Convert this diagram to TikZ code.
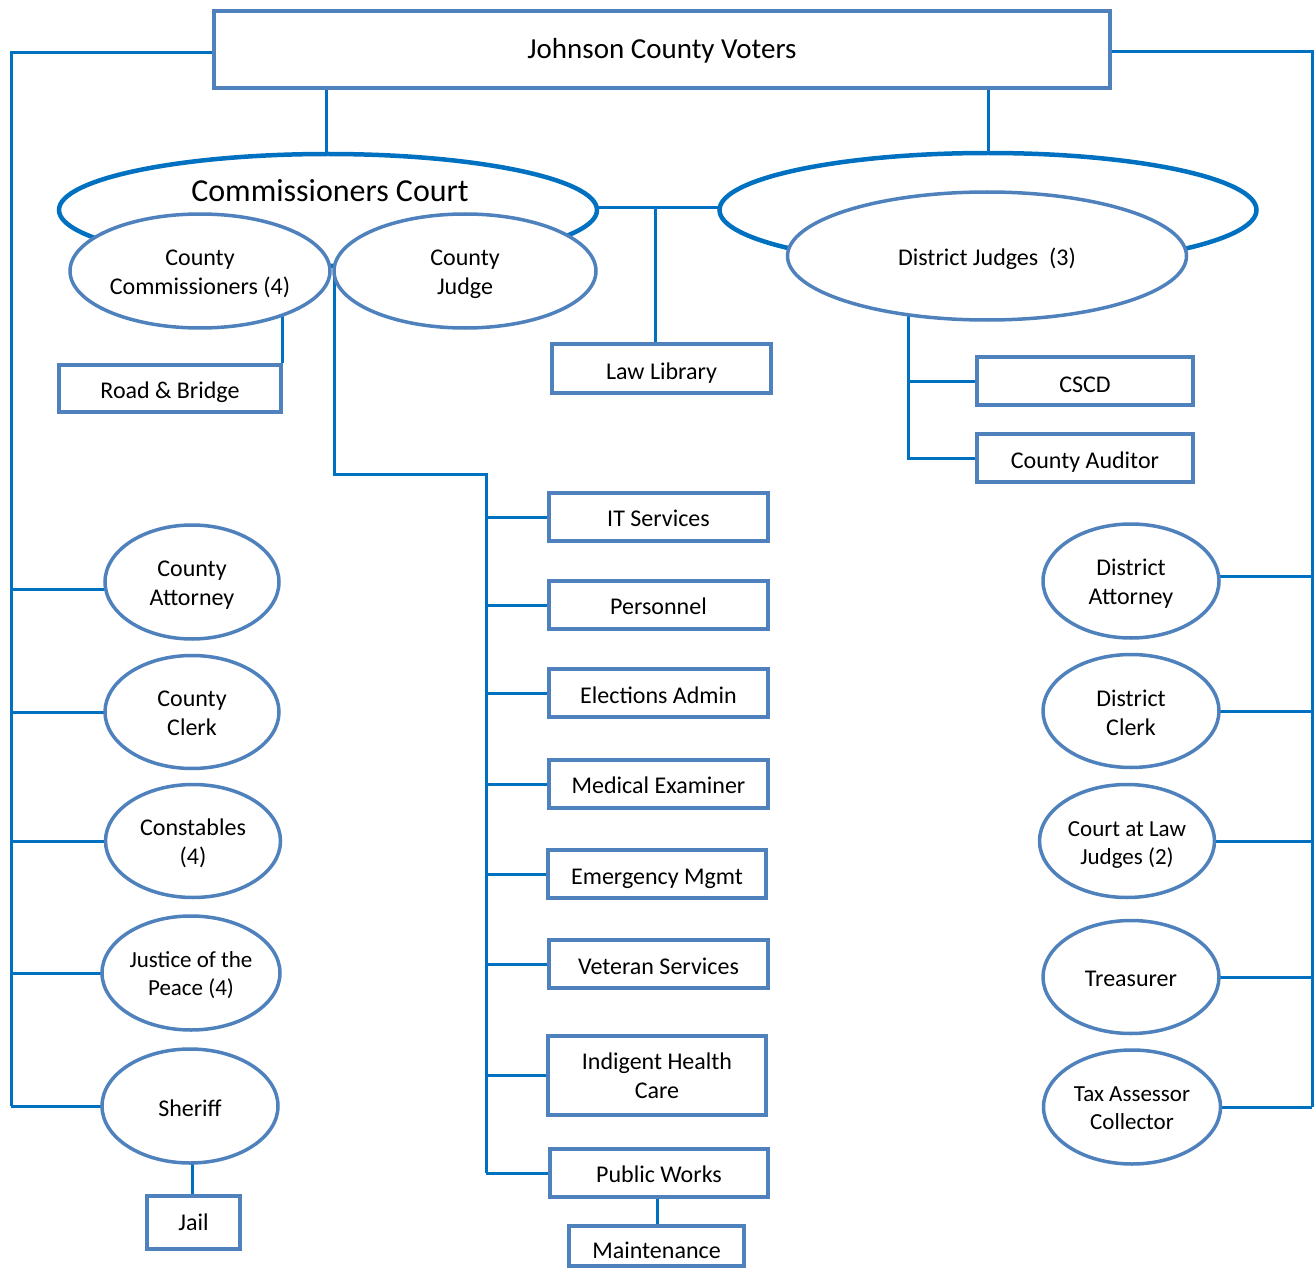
\documentclass[tikz,border=0pt]{standalone}
\usepackage{fontspec}
\setmainfont{Carlito}
\usetikzlibrary{shapes.geometric}
\definecolor{nodeblue}{HTML}{4F81BD}
\definecolor{lineblue}{HTML}{0070C0}
\pgfdeclarelayer{bg}
\pgfsetlayers{bg,main}
\newcommand\lbl[2][2.5pt]{\raisebox{-#1}[\height][\depth]{\begin{tabular}{@{}c@{}}#2\end{tabular}}}
\begin{document}
\begin{tikzpicture}[x=1pt,y=-1pt,
  rbox/.style={draw=nodeblue,line width=3.5pt,fill=white,inner sep=0pt,align=center,font=\fontsize{24}{29}\selectfont},
  oval/.style={ellipse,draw=nodeblue,line width=3.5pt,fill=white,inner sep=0pt,align=center,font=\fontsize{24}{29}\selectfont},
  smalloval/.style={oval,font=\fontsize{23}{28}\selectfont},
  bigoval/.style={ellipse,draw=lineblue,line width=4.5pt,fill=white,inner sep=0pt},
  conn/.style={draw=lineblue,line width=3pt}]
\useasboundingbox (0,0) rectangle (1315,1268);

% top
\node[rbox,minimum width=896pt,minimum height=77pt,font=\fontsize{29}{34}\selectfont] (voters) at (662,49.5) {\lbl[2pt]{Johnson County Voters}};

% big ovals
\node[bigoval,minimum width=538pt,minimum height=112pt] (cc) at (328,210) {};
\node[font=\fontsize{32}{38}\selectfont] (cctitle) at (330,191) {Commissioners Court};
\node[bigoval,minimum width=537pt,minimum height=114pt] (djbig) at (988,210) {};

\node[oval,minimum width=260pt,minimum height=114pt] (comm) at (200,271) {\lbl[3pt]{County\\Commissioners (4)}};
\node[oval,minimum width=262pt,minimum height=114pt] (cj) at (465,271) {\lbl[3pt]{County\\Judge}};
\node[oval,minimum width=399pt,minimum height=128pt] (dj) at (987,256) {\lbl[3.5pt]{District Judges~ (3)}};

% boxes
\node[rbox,minimum width=219pt,minimum height=49pt] (lawlib) at (661.5,368.5) {\lbl[5pt]{Law Library}};
\node[rbox,minimum width=222pt,minimum height=47pt] (rb) at (170,388.5) {\lbl[4pt]{Road \& Bridge}};
\node[rbox,minimum width=216pt,minimum height=48pt] (cscd) at (1085,381) {\lbl[6pt]{CSCD}};
\node[rbox,minimum width=216pt,minimum height=48pt] (aud) at (1085,458) {\lbl[5pt]{County Auditor}};

\node[rbox,minimum width=219pt,minimum height=48pt] (it) at (658.5,517) {\lbl[3.5pt]{IT Services}};
\node[rbox,minimum width=219pt,minimum height=48pt] (pers) at (658.5,605) {\lbl[3.5pt]{Personnel}};
\node[rbox,minimum width=219pt,minimum height=48pt] (elec) at (658.5,693) {\lbl[5pt]{Elections Admin}};
\node[rbox,minimum width=219pt,minimum height=48pt] (med) at (658.5,784) {\lbl[3.5pt]{Medical Examiner}};
\node[rbox,minimum width=218pt,minimum height=48pt] (emerg) at (657,874) {\lbl[5pt]{Emergency Mgmt}};
\node[rbox,minimum width=219pt,minimum height=48pt] (vet) at (658.5,964) {\lbl[4.5pt]{Veteran Services}};
\node[rbox,minimum width=218pt,minimum height=79pt] (ihc) at (657,1075.5) {\lbl[3pt]{Indigent Health\\Care}};
\node[rbox,minimum width=218pt,minimum height=48pt] (pw) at (659,1173) {\lbl[3.5pt]{Public Works}};
\node[rbox,minimum width=175pt,minimum height=40pt] (maint) at (656.5,1246) {\lbl[6.5pt]{Maintenance}};
\node[rbox,minimum width=93pt,minimum height=53pt] (jail) at (193.5,1222.5) {\lbl[2pt]{Jail}};

% left ovals
\node[oval,minimum width=174pt,minimum height=114pt] (catt) at (192,582) {\lbl[3pt]{County\\Attorney}};
\node[oval,minimum width=174pt,minimum height=113pt] (cclerk) at (192,712) {\lbl[3.5pt]{County\\Clerk}};
\node[oval,minimum width=175pt,minimum height=113pt] (const) at (193,841) {\lbl[3pt]{Constables\\(4)}};
\node[smalloval,minimum width=178pt,minimum height=114pt] (jp) at (191,973) {\lbl[2.5pt]{Justice of the\\Peace (4)}};
\node[oval,minimum width=176pt,minimum height=114pt] (sheriff) at (190,1106) {\lbl[4.5pt]{Sheriff}};

% right ovals
\node[oval,minimum width=176pt,minimum height=114pt] (datt) at (1131,581) {\lbl[3pt]{District\\Attorney}};
\node[oval,minimum width=176pt,minimum height=113pt] (dclerk) at (1131,711) {\lbl[4pt]{District\\Clerk}};
\node[smalloval,minimum width=175pt,minimum height=113pt] (cal) at (1127,841) {\lbl[4pt]{Court at Law\\Judges (2)}};
\node[oval,minimum width=176pt,minimum height=113pt] (treas) at (1131,977) {\lbl[4pt]{Treasurer}};
\node[smalloval,minimum width=177pt,minimum height=114pt] (tax) at (1132,1107) {\lbl[3pt]{Tax Assessor\\Collector}};

\begin{pgfonlayer}{bg}
  \coordinate (LT) at (11,53);
  \coordinate (RT) at (1312,52);
  \draw[conn] (voters.center |- LT) -- (LT) -- (LT |- sheriff.center);
  \draw[conn] ([yshift=-7pt]catt.center) -- ([yshift=-7pt]catt.center -| LT);
  \foreach \n in {cclerk,const,jp,sheriff}
    \draw[conn] (\n.center) -- (\n.center -| LT);
  \draw[conn] (voters.center |- RT) -- (RT) -- (RT |- tax.center);
  \draw[conn] ([yshift=5pt]datt.center) -- ([yshift=5pt]datt.center -| RT);
  \foreach \n in {dclerk,cal,treas,tax}
    \draw[conn] (\n.center) -- (\n.center -| RT);

  \draw[conn] ([xshift=-2pt]cc.north) -- ([xshift=-2pt]cc.north |- voters.center);
  \draw[conn] (djbig.north) -- (djbig.north |- voters.center);
  \draw[conn] ([yshift=2pt]cc.center) -- ([yshift=2pt]djbig.center);
  \coordinate (J1) at (655,208);
  \draw[conn] (J1) -- (J1 |- lawlib.center);

  \draw[conn] (rb.north east) -- (rb.north east |- comm.center);

  \coordinate (J2) at (486,474);
  \draw[conn] ([xshift=2pt]cj.west) -- ([xshift=2pt]cj.west |- J2) -- (J2) -- (J2 |- pw.center);
  \foreach \n in {it,pers,elec,med,emerg,vet,ihc,pw}
    \draw[conn] (\n.center) -- (\n.center -| J2);

  \coordinate (J3) at (908,256);
  \draw[conn] (J3) -- (J3 |- aud.center) -- (aud.center);
  \draw[conn] (cscd.center) -- (cscd.center -| J3);

  \draw[conn] ([xshift=2pt]sheriff.center) -- ([xshift=2pt]sheriff.center |- jail.center);
  \draw[conn] ([xshift=-2pt]pw.center) -- ([xshift=-2pt]pw.center |- maint.center);
\end{pgfonlayer}
\end{tikzpicture}
\end{document}
